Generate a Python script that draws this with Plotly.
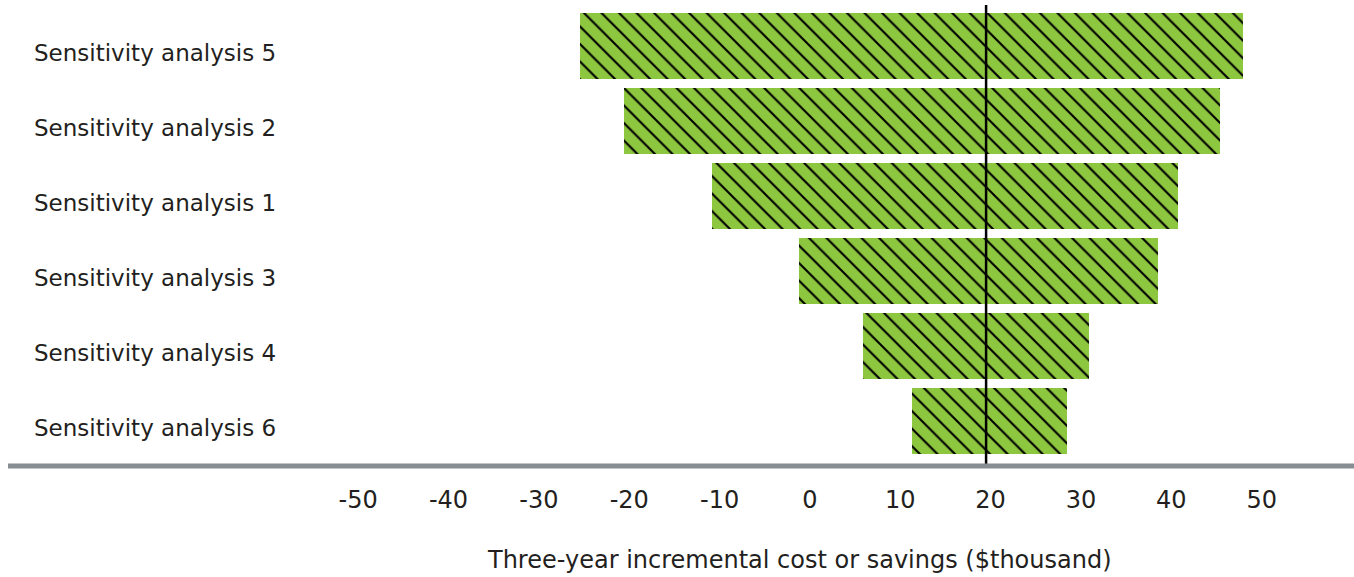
import plotly.graph_objects as go

# Data (top-to-bottom order as shown)
categories = ["Sensitivity analysis 5", "Sensitivity analysis 2", "Sensitivity analysis 1",
              "Sensitivity analysis 3", "Sensitivity analysis 4", "Sensitivity analysis 6"]
low_values = [-25.4, -20.6, -10.8, -1.2, 5.9, 11.3]
high_values = [47.9, 45.4, 40.7, 38.5, 30.9, 28.5]
base_case = 19.5
tick_values = [-50, -40, -30, -20, -10, 0, 10, 20, 30, 40, 50]
x_title = "Three-year incremental cost or savings ($thousand)"

# plot bottom-to-top
cats = categories[::-1]
lows = low_values[::-1]
highs = high_values[::-1]

W, H = 1354, 577
ml, mr, mt, mb = 313, 2, 5, 111
plot_w = W - ml - mr

font_family = "DejaVu Sans"
text_color = "#231f20"
green = "#8DC63F"

fig = go.Figure()
fig.add_trace(go.Bar(
    y=list(range(len(cats))),
    x=[h - l for l, h in zip(lows, highs)],
    base=lows,
    orientation="h",
    width=0.88,
    marker=dict(
        color=green,
        line=dict(width=0),
        pattern=dict(shape="\\", fgcolor="#000000", fgopacity=1, bgcolor=green,
                     size=12.4, solidity=0.17),
    ),
    hoverinfo="skip",
    showlegend=False,
))

annotations = []
for i, c in enumerate(cats):
    annotations.append(dict(
        x=(32 - ml) / plot_w, xref="paper", y=i, yref="y", yshift=-7,
        text=c, showarrow=False, xanchor="left", yanchor="middle",
        font=dict(family=font_family, size=23, color=text_color),
    ))
annotations.append(dict(
    x=-1.1, xref="x", y=-(560 - (H - mb)) / (H - mt - mb), yref="paper",
    text=x_title, showarrow=False, xanchor="center", yanchor="middle",
    font=dict(family=font_family, size=24, color=text_color),
))

shapes = [
    dict(type="line", xref="x", yref="paper", x0=base_case, x1=base_case, y0=0, y1=1,
         line=dict(color="black", width=2.5)),
    dict(type="line", xref="paper", yref="paper", x0=(8 - ml) / plot_w, x1=1.01, y0=0, y1=0,
         line=dict(color="#868d93", width=5)),
]

fig.update_layout(
    width=W, height=H,
    margin=dict(l=ml, r=mr, t=mt, b=mb),
    paper_bgcolor="white", plot_bgcolor="white",
    xaxis=dict(range=[-55, 60], tickvals=tick_values, ticktext=[str(v) for v in tick_values],
               showgrid=False, zeroline=False, showline=False,
               ticks="outside", ticklen=12, tickcolor="rgba(0,0,0,0)",
               tickfont=dict(family=font_family, size=24, color=text_color)),
    yaxis=dict(range=[-0.6, 5.55], showticklabels=False, showgrid=False, zeroline=False,
               showline=False, ticks=""),
    annotations=annotations,
    shapes=shapes,
    bargap=0,
)

fig.write_html("out.html", config={"displayModeBar": False},
               post_script="document.body.style.margin='0';document.body.style.padding='0';")
